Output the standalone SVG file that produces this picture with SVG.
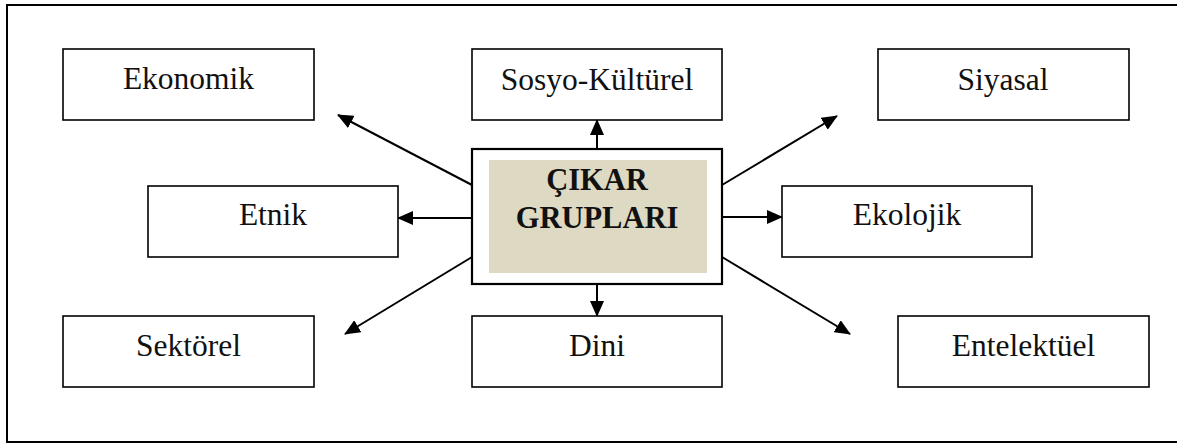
<svg xmlns="http://www.w3.org/2000/svg" width="1177" height="444" viewBox="0 0 1177 444">
  <style>
    .box { fill: #ffffff; stroke: #000000; stroke-width: 1.6; }
    .label { font-family: "Liberation Serif", "Times New Roman", serif; font-size: 31.5px; fill: #111111; text-anchor: middle; }
    .title { font-family: "Liberation Serif", "Times New Roman", serif; font-size: 30.5px; font-weight: bold; fill: #111111; text-anchor: middle; }
    .link { stroke: #000000; stroke-width: 2; fill: none; marker-end: url(#head); }
  </style>
  <defs>
    <marker id="head" markerUnits="userSpaceOnUse" markerWidth="16" markerHeight="14" viewBox="0 0 16 14" refX="15" refY="7" orient="auto">
      <path d="M0,0 L16,7 L0,14 z" fill="#000000"/>
    </marker>
  </defs>

  <rect width="1177" height="444" fill="#ffffff"/>

  <!-- page frame, open on the right -->
  <rect x="7" y="5" width="1185" height="437" fill="none" stroke="#000000" stroke-width="2"/>

  <!-- connectors from the central box -->
  <g id="connectors">
    <line class="link" x1="472" y1="185" x2="338" y2="115"/>
    <line class="link" x1="597" y1="149" x2="597" y2="120"/>
    <line class="link" x1="722" y1="185" x2="837" y2="116"/>
    <line class="link" x1="472" y1="218" x2="398" y2="218"/>
    <line class="link" x1="722" y1="217" x2="782" y2="217"/>
    <line class="link" x1="472" y1="257" x2="345" y2="334"/>
    <line class="link" x1="597" y1="284" x2="597" y2="316"/>
    <line class="link" x1="722" y1="257" x2="850" y2="334"/>
  </g>

  <g id="center">
    <rect x="472" y="149" width="250" height="135" fill="#ffffff" stroke="#000000" stroke-width="2.2"/>
    <rect x="489" y="160" width="218" height="113" fill="#DDD9C3"/>
    <text class="title" x="597" y="190">ÇIKAR</text>
    <text class="title" x="597" y="228">GRUPLARI</text>
  </g>

  <g id="ekonomik">
    <rect class="box" x="63" y="49" width="251" height="71"/>
    <text class="label" x="188.5" y="89">Ekonomik</text>
  </g>
  <g id="sosyo-kulturel">
    <rect class="box" x="472" y="49" width="250" height="71"/>
    <text class="label" x="597" y="90">Sosyo-Kültürel</text>
  </g>
  <g id="siyasal">
    <rect class="box" x="878" y="49" width="251" height="71"/>
    <text class="label" x="1003" y="90">Siyasal</text>
  </g>
  <g id="etnik">
    <rect class="box" x="148" y="186" width="250" height="71"/>
    <text class="label" x="273" y="225">Etnik</text>
  </g>
  <g id="ekolojik">
    <rect class="box" x="782" y="186" width="250" height="71"/>
    <text class="label" x="907" y="225">Ekolojik</text>
  </g>
  <g id="sektorel">
    <rect class="box" x="63" y="316" width="251" height="71"/>
    <text class="label" x="188.5" y="356">Sektörel</text>
  </g>
  <g id="dini">
    <rect class="box" x="472" y="316" width="250" height="71"/>
    <text class="label" x="597" y="356">Dini</text>
  </g>
  <g id="entelektuel">
    <rect class="box" x="898" y="316" width="251" height="71"/>
    <text class="label" x="1023.5" y="356">Entelektüel</text>
  </g>
</svg>
